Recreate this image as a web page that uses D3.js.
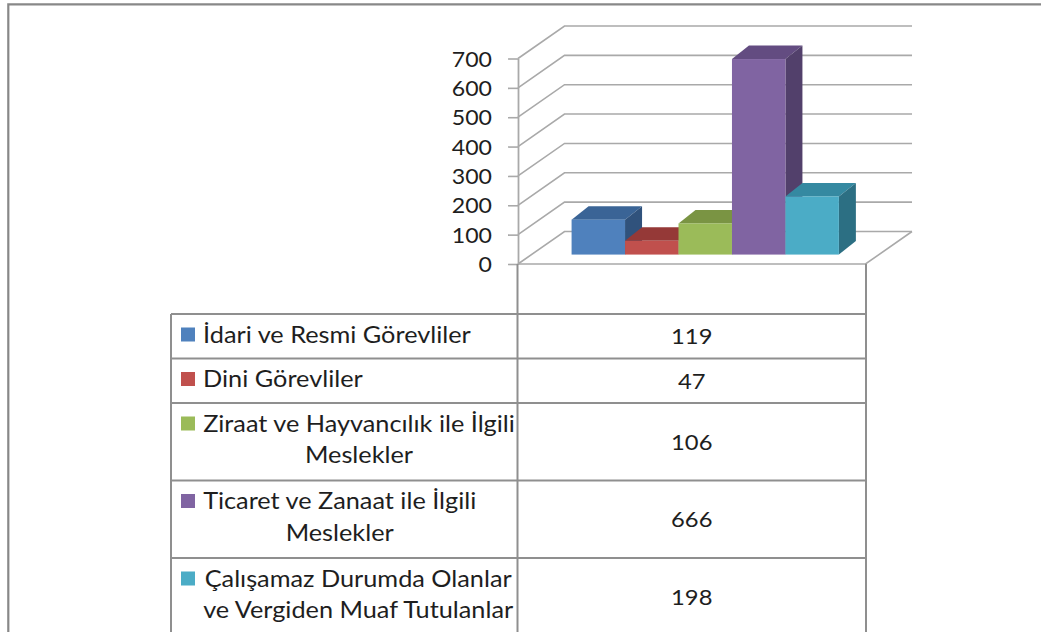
<!DOCTYPE html>
<html><head><meta charset="utf-8">
<script src="https://cdn.jsdelivr.net/npm/d3@7"></script>
<style>body{margin:0;background:#fff;} svg{display:block;}</style>
</head><body>
<svg id="c" width="1041" height="632"></svg>
<script>
const categories = ["İdari ve Resmi Görevliler", "Dini Görevliler", "Ziraat ve Hayvancılık ile İlgili Meslekler", "Ticaret ve Zanaat ile İlgili Meslekler", "Çalışamaz Durumda Olanlar ve Vergiden Muaf Tutulanlar"];
const labelLines = [["İdari ve Resmi Görevliler"], ["Dini Görevliler"], ["Ziraat ve Hayvancılık ile İlgili", "Meslekler"], ["Ticaret ve Zanaat ile İlgili", "Meslekler"], ["Çalışamaz Durumda Olanlar", "ve Vergiden Muaf Tutulanlar"]];
const values = [119, 47, 106, 666, 198];
const yTicks = [0, 100, 200, 300, 400, 500, 600, 700];
const frontColors = ["#4F81BD", "#C0504D", "#9BBB59", "#8064A2", "#4BACC6"];
const topColors = ["#3A6496", "#953937", "#7A9443", "#634C81", "#3589A1"];
const sideColors = ["#30527C", "#7C302E", "#657B38", "#52406B", "#2C6F83"];

const svg = d3.select("#c");
const FONT = "Lato, 'Open Sans', sans-serif";
const textColor = "#1e1e1e";
const gridColor = "#a9a9a9";
const tableColor = "#8f8f8f";

// outer frame
svg.append("path").attr("d", "M8.3,632 V4.3 H1041").attr("fill", "none")
  .attr("stroke", "#888").attr("stroke-width", 2.2);

const plot = {left: 518, right: 865.5, floorY: 264, top: 58.5};
const DX = 46.5, DY = -32.5;
const y = d3.scaleLinear().domain([0, 700]).range([plot.floorY, plot.top]);
const x = d3.scaleBand().domain(categories).range([plot.left, plot.right]).paddingInner(0).paddingOuter(0.75);

// walls gridlines
const grid = svg.append("g").attr("fill", "none").attr("stroke", gridColor).attr("stroke-width", 1.6);
yTicks.forEach(v => {
  grid.append("path").attr("d", `M${plot.left},${y(v)} L${plot.left + DX},${y(v) + DY} L${plot.right + DX},${y(v) + DY}`);
});
// floor front + right edge
grid.append("path").attr("d", `M${plot.left},${y(0)} L${plot.right},${y(0)} L${plot.right + DX},${y(0) + DY}`);

// axis
const axis = d3.axisLeft(y).tickValues(yTicks).tickSize(10).tickSizeOuter(0).tickPadding(0);
const ag = svg.append("g").attr("transform", `translate(${plot.left},0)`).call(axis);
ag.select(".domain").attr("stroke", gridColor).attr("stroke-width", 1.8);
ag.selectAll(".tick line").attr("stroke", gridColor).attr("stroke-width", 1.6);
ag.selectAll(".tick text").attr("x", null).attr("dy", null)
  .attr("transform", "translate(-26,7.5) scale(1.1,1)")
  .attr("font-family", FONT).attr("font-size", 21).attr("fill", textColor).attr("text-anchor", "end");

// bars
const zf = 0.29, BDX = 17, BDY = -13.5;
const bars = svg.append("g");
values.forEach((v, i) => {
  const x0 = x(categories[i]) + zf * DX, x1 = x0 + x.bandwidth();
  const yb = y(0) + zf * DY, yt = y(v) + zf * DY;
  bars.append("path").attr("fill", topColors[i])
    .attr("d", `M${x0},${yt} L${x1},${yt} L${x1 + BDX},${yt + BDY} L${x0 + BDX},${yt + BDY} Z`);
  bars.append("path").attr("fill", sideColors[i])
    .attr("d", `M${x1},${yt} L${x1 + BDX},${yt + BDY} L${x1 + BDX},${yb + BDY} L${x1},${yb} Z`);
  bars.append("rect").attr("fill", frontColors[i])
    .attr("x", x0).attr("y", yt).attr("width", x1 - x0).attr("height", yb - yt);
});

// data table
const tbl = {left: 171, mid: 517.5, right: 866, top: 314};
const rowH = labelLines.map(l => 44.5 + 33 * (l.length - 1));
const rowTop = [];
rowH.reduce((acc, h) => { rowTop.push(acc); return acc + h; }, tbl.top);
const tg = svg.append("g").attr("stroke", tableColor).attr("stroke-width", 2).attr("fill", "none");
rowTop.forEach(t => tg.append("path").attr("d", `M${tbl.left},${t} H${tbl.right}`));
tg.append("path").attr("d", `M${tbl.left},${tbl.top} V632`);
tg.append("path").attr("d", `M${tbl.mid},${plot.floorY} V632`);
tg.append("path").attr("d", `M${tbl.right},${plot.floorY} V632`);

const tx = svg.append("g").attr("font-family", FONT).attr("fill", textColor);
labelLines.forEach((lines, i) => {
  const top = rowTop[i], h = rowH[i];
  const b1 = top + 28.5;
  tx.append("rect").attr("x", 181).attr("y", b1 - 15).attr("width", 14).attr("height", 14).attr("fill", frontColors[i]);
  const sx = 1.1;
  const nodes = lines.map((ln, k) => tx.append("text").attr("font-size", 23).attr("text-anchor", "middle").text(ln));
  const w = d3.max(nodes, n => n.node().getComputedTextLength()) * sx;
  const cx = 203 + w / 2;
  nodes.forEach((n, k) => n.attr("transform", `translate(${cx},${b1 + 31.5 * k}) scale(${sx},1)`));
  tx.append("text").attr("font-size", 22).attr("text-anchor", "middle")
    .attr("transform", `translate(${(tbl.mid + tbl.right) / 2},${top + h / 2 + 8}) scale(1.08,1)`)
    .text(values[i]);
});
</script>
</body></html>
